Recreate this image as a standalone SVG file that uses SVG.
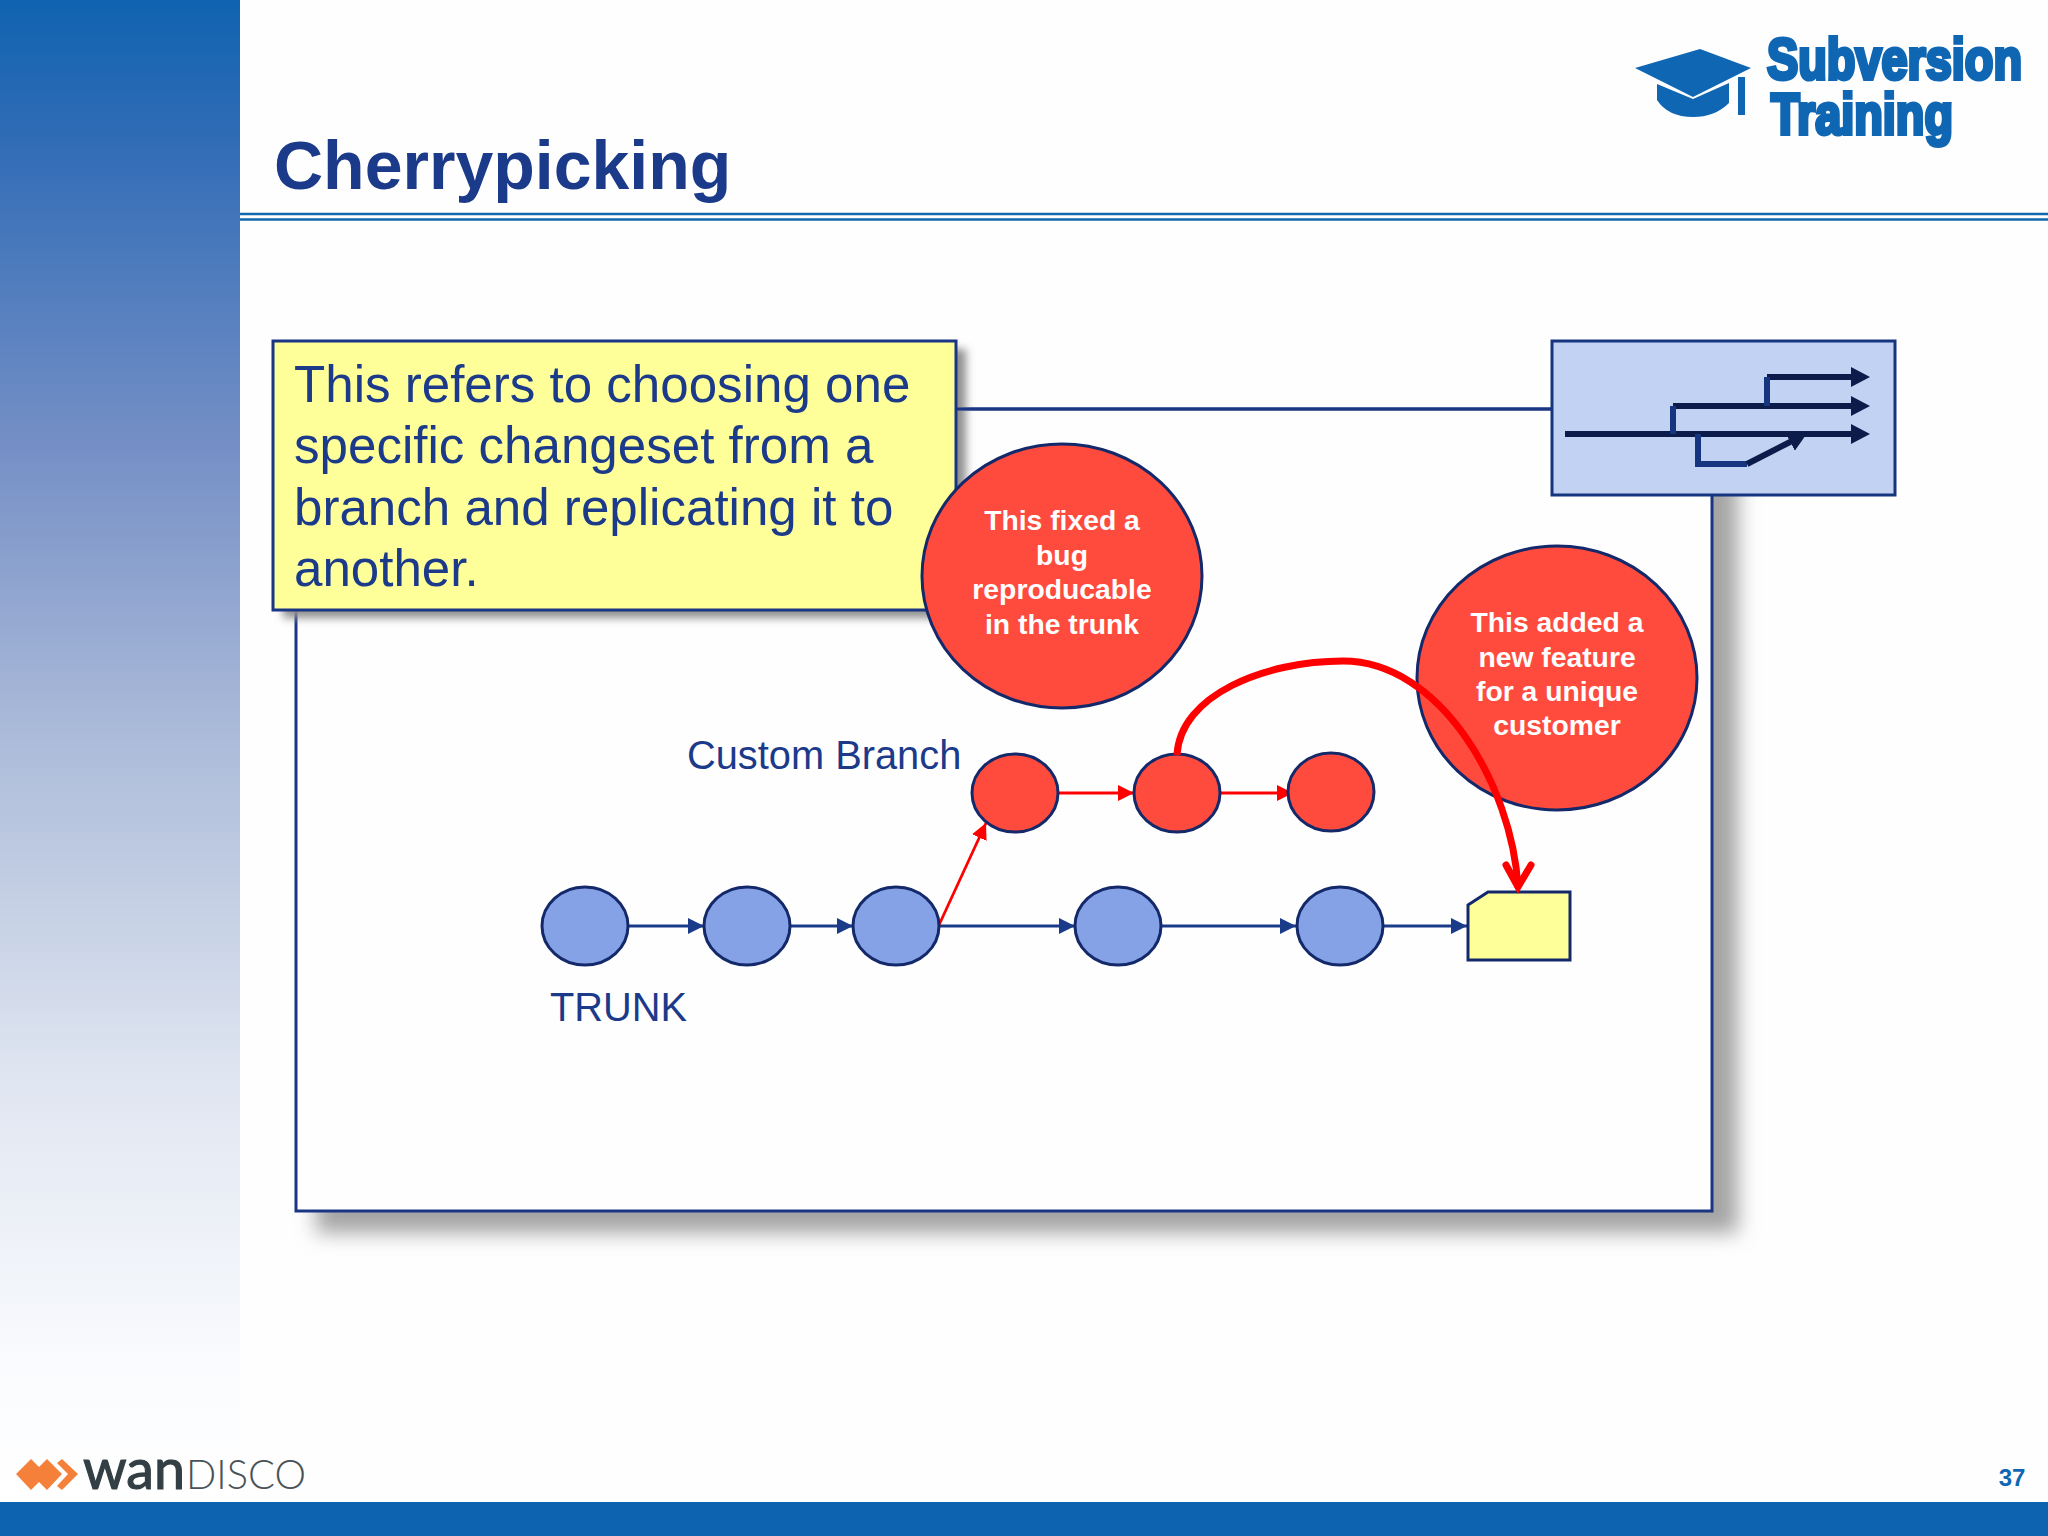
<svg xmlns="http://www.w3.org/2000/svg" width="2048" height="1536" viewBox="0 0 2048 1536">
<defs>
<linearGradient id="side" x1="0" y1="0" x2="0" y2="1">
<stop offset="0" stop-color="#0f63b0"/><stop offset="0.08" stop-color="#2c6ab5"/><stop offset="0.3" stop-color="#7690c6"/><stop offset="0.5" stop-color="#aebdda"/><stop offset="0.72" stop-color="#e0e6f1"/><stop offset="0.92" stop-color="#fbfcfe"/><stop offset="1" stop-color="#ffffff"/>
</linearGradient>
<filter id="blur" x="-10%" y="-10%" width="120%" height="120%"><feGaussianBlur stdDeviation="10"/></filter>
<filter id="blur2" x="-10%" y="-10%" width="120%" height="130%"><feGaussianBlur stdDeviation="4"/></filter>
<marker id="ab" markerUnits="userSpaceOnUse" markerWidth="18" markerHeight="18" refX="16" refY="8" orient="auto"><path d="M0 0L16 8L0 16Z" fill="#1a3a8a"/></marker>
<marker id="ar" markerUnits="userSpaceOnUse" markerWidth="18" markerHeight="18" refX="16" refY="8" orient="auto"><path d="M0 0L16 8L0 16Z" fill="#ff0000"/></marker>
<marker id="ak" markerUnits="userSpaceOnUse" markerWidth="20" markerHeight="22" refX="2" refY="10" orient="auto"><path d="M0 0L19 10L0 20Z" fill="#0c1c4a"/></marker>
</defs>
<style>
.s{stroke:#14296a;stroke-width:3}
.bl{fill:#86a2e6}
.rd{fill:#ff4b3e}
.cb{stroke:#1a3a8a;stroke-width:2.800;fill:none;marker-end:url(#ab)}
.cr{stroke:#ff0000;stroke-width:2.800;fill:none;marker-end:url(#ar)}
.t{font-family:"Liberation Sans",Arial,sans-serif;fill:#1c3a8a}
.w{font-family:"Liberation Sans",Arial,sans-serif;font-weight:bold;font-size:28.300px;fill:#fff;text-anchor:middle}
.k{stroke:#0c1c4a;stroke-width:6;fill:none}
.n{stroke:#16357f;stroke-width:6;fill:none}
.lg{font-family:"Liberation Sans Narrow","Liberation Sans",sans-serif;font-weight:bold;font-size:40px;stroke:#0f66b3;stroke-width:3.500;vector-effect:non-scaling-stroke}
</style>
<rect width="2048" height="1536" fill="#fefefe"/>
<rect id="sidebar" width="240" height="1502" fill="url(#side)"/>
<rect id="footer" y="1502" width="2048" height="34" fill="#0d63b0"/>
<path d="M240 214H2048M240 219.500H2048" stroke="#1466ad" stroke-width="2.500" fill="none"/>
<text class="t" x="274" y="189" font-size="68" font-weight="bold">Cherrypicking</text>

<g id="logo-training" fill="#0f66b3">
<path d="M1700 49L1751 68L1693 97L1635 68Z"/>
<path d="M1657 84L1693 99L1729 83V103Q1715 117 1693 117Q1668 117 1657 100Z"/>
<rect x="1738" y="77" width="7" height="38"/>
<text class="lg" transform="translate(1767 79) scale(1 1.450)" textLength="255" lengthAdjust="spacingAndGlyphs">Subversion</text>
<text class="lg" transform="translate(1771 134) scale(1 1.450)" textLength="182" lengthAdjust="spacingAndGlyphs">Training</text>
</g>

<g id="logo-wandisco">
<path d="M16 1474L31 1459L39 1467L47 1459L62 1474L47 1490L39 1482L31 1490Z" fill="#f4803a"/>
<path d="M62 1459L78 1474L62 1490L57 1486L68 1474L57 1463Z" fill="#f4803a"/>
<text x="83" y="1489" font-family="Lato,Liberation Sans,sans-serif" font-size="57" textLength="102" lengthAdjust="spacingAndGlyphs" fill="#333f44" stroke="#333f44" stroke-width="1.200">wan</text>
<text x="186" y="1489" font-family="Lato,Liberation Sans,sans-serif" font-weight="300" font-size="41" textLength="120" lengthAdjust="spacingAndGlyphs" fill="#4a5357">DISCO</text>
</g>
<text id="page" x="2012" y="1486" font-family="Liberation Sans,sans-serif" font-weight="bold" font-size="24" fill="#0f66b3" text-anchor="middle">37</text>

<g id="frame">
<rect x="316" y="430" width="1422" height="803" fill="#a4a4a4" filter="url(#blur)"/>
<rect x="296" y="409" width="1416" height="802" fill="#fefefe" stroke="#1a3584" stroke-width="3"/>
</g>

<g id="connectors">
<line class="cb" x1="628" y1="926" x2="704" y2="926"/>
<line class="cb" x1="790" y1="926" x2="853" y2="926"/>
<line class="cb" x1="939" y1="926" x2="1075" y2="926"/>
<line class="cb" x1="1161" y1="926" x2="1296" y2="926"/>
<line class="cb" x1="1383" y1="926" x2="1467" y2="926"/>
<line class="cr" x1="939" y1="925" x2="986" y2="823"/>
<line class="cr" x1="1058" y1="793" x2="1134" y2="793"/>
<line class="cr" x1="1220" y1="793" x2="1293" y2="793"/>
</g>

<g id="trunk1"><ellipse class="s bl" cx="585" cy="926" rx="43" ry="39"/></g>
<g id="trunk2"><ellipse class="s bl" cx="747" cy="926" rx="43" ry="39"/></g>
<g id="trunk3"><ellipse class="s bl" cx="896" cy="926" rx="43" ry="39"/></g>
<g id="trunk4"><ellipse class="s bl" cx="1118" cy="926" rx="43" ry="39"/></g>
<g id="trunk5"><ellipse class="s bl" cx="1340" cy="926" rx="43" ry="39"/></g>
<g id="branch1"><ellipse class="s rd" cx="1015" cy="793" rx="43" ry="39"/></g>
<g id="branch2"><ellipse class="s rd" cx="1177" cy="793" rx="43" ry="39"/></g>
<g id="branch3"><ellipse class="s rd" cx="1331" cy="792" rx="43" ry="39"/></g>
<g id="file"><path class="s" d="M1468 905L1488 892H1570V960H1468Z" fill="#ffff99"/></g>

<text class="t" x="687" y="769" font-size="39.800">Custom Branch</text>
<text class="t" x="550" y="1021" font-size="39.800">TRUNK</text>

<g id="note">
<rect x="283" y="349" width="683" height="269" fill="#909090" filter="url(#blur2)"/>
<rect x="273" y="341" width="683" height="269" fill="#ffff99" stroke="#1a3584" stroke-width="3"/>
<text class="t" font-size="51.100"><tspan x="294" y="402">This refers to choosing one</tspan><tspan x="294" y="463">specific changeset from a</tspan><tspan x="294" y="525">branch and replicating it to</tspan><tspan x="294" y="586">another.</tspan></text>
</g>

<g id="bubble1">
<ellipse class="s rd" cx="1062" cy="576" rx="140" ry="132"/>
<text class="w"><tspan x="1062" y="530">This fixed a</tspan><tspan x="1062" y="565">bug</tspan><tspan x="1062" y="599">reproducable</tspan><tspan x="1062" y="634">in the trunk</tspan></text>
</g>
<g id="bubble2">
<ellipse class="s rd" cx="1557" cy="678" rx="140" ry="132"/>
<text class="w"><tspan x="1557" y="632">This added a</tspan><tspan x="1557" y="667">new feature</tspan><tspan x="1557" y="701">for a unique</tspan><tspan x="1557" y="735">customer</tspan></text>
</g>

<g id="cherrypick" fill="none" stroke="#ff0000" stroke-width="7" stroke-linecap="round">
<path d="M1177 755C1180 695 1265 661 1343 661C1440 661 1512 785 1518 887" stroke-linecap="butt"/>
<path d="M1506 865L1518 887L1531 865"/>
</g>

<line x1="956" y1="409" x2="1552" y2="409" stroke="#1a3584" stroke-width="3"/>
<g id="legend">
<rect x="1552" y="341" width="343" height="154" fill="#c1d2f3" stroke="#16357f" stroke-width="3"/>
<path class="k" d="M1565 434H1853" marker-end="url(#ak)"/>
<path class="k" d="M1673 406H1853" marker-end="url(#ak)"/>
<path class="k" d="M1767 377H1853" marker-end="url(#ak)"/>
<path class="n" d="M1673 406V434M1767 377V406M1698 434V464H1747"/>
<path class="k" d="M1747 464L1792 441" marker-end="url(#ak)"/>
</g>
</svg>
